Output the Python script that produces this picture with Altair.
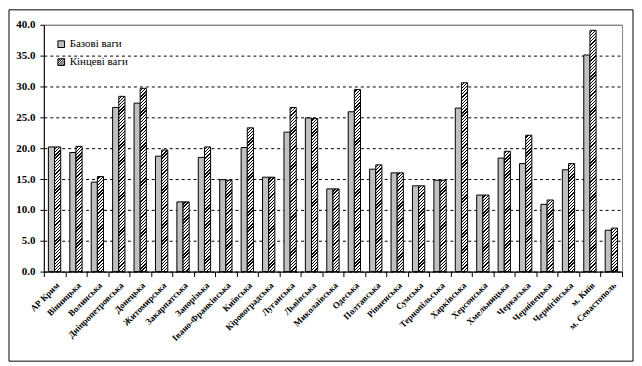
import altair as alt

regions = [
    "АР Крим", "Вінницька", "Волинська", "Дніпропетровська", "Донецька",
    "Житомирська", "Закарпатська", "Запорізька", "Івано-Франківська", "Київська",
    "Кіровоградська", "Луганська", "Львівська", "Миколаївська", "Одеська",
    "Полтавська", "Рівненська", "Сумська", "Тернопільська", "Харківська",
    "Херсонська", "Хмельницька", "Черкаська", "Чернівецька", "Чернігівська",
    "м. Київ", "м. Севастополь",
]
base_weights = [
    20.2, 19.3, 14.5, 26.6, 27.3, 18.7, 11.3, 18.5, 14.9, 20.1,
    15.3, 22.6, 24.9, 13.4, 25.9, 16.6, 16.0, 13.9, 14.8, 26.5,
    12.4, 18.4, 17.5, 10.9, 16.5, 35.1, 6.7,
]
final_weights = [
    20.2, 20.3, 15.4, 28.4, 29.7, 19.7, 11.3, 20.2, 14.8, 23.3,
    15.3, 26.6, 24.8, 13.4, 29.5, 17.3, 16.0, 13.9, 14.8, 30.6,
    12.4, 19.5, 22.1, 11.6, 17.5, 39.1, 7.05,
]
series_names = ["Базові ваги", "Кінцеві ваги"]
y_ticks = [0, 5, 10, 15, 20, 25, 30, 35, 40]

W, H = 581, 248
YMAX = 40
PO = 0.74
bar_w = W / len(regions) / (2 + 2 * PO)
px_per_unit = H / YMAX


def hatch(v, period=3.2, ink=0.4):
    """Diagonal '/' hatch as a bounding-box linear gradient for a bar of value v."""
    h = max(v * px_per_unit, 1.0)
    w = bar_w
    k = h / w
    s = (1 + k) / (1 + k * k)
    L = w + h
    stops = [{"offset": 0, "color": "white"}]
    n = 0
    while n * period < L:
        a = min((n + 1 - ink) * period / L, 1.0)
        b = min((n + 1) * period / L, 1.0)
        stops += [
            {"offset": a, "color": "white"},
            {"offset": a, "color": "black"},
            {"offset": b, "color": "black"},
            {"offset": b, "color": "white"},
        ]
        n += 1
    return {"gradient": "linear", "x1": 0, "y1": 0, "x2": s, "y2": s * k, "stops": stops}


records = []
for r, b, f in zip(regions, base_weights, final_weights):
    records.append({"region": r, "series": series_names[0], "value": b, "paint": "#c0c0c0"})
    records.append({"region": r, "series": series_names[1], "value": f, "paint": hatch(f)})

HATCH_PATH = ("M-1,-1H1V1H-1Z M-1,-0.33L-0.33,-1 M-1,0.33L0.33,-1 "
              "M-1,1L1,-1 M-0.33,1L1,-0.33 M0.33,1L1,0.33")

frame = alt.Chart(alt.Data(values=[{"k": 0}])).mark_rect(
    fill="transparent", stroke="black", strokeWidth=1
).encode(
    x=alt.value(-35), x2=alt.value(592), y=alt.value(-15), y2=alt.value(338)
)

bars = alt.Chart(alt.Data(values=records)).mark_bar(
    stroke="black", strokeWidth=1
).encode(
    x=alt.X(
        "region:N", sort=regions, title=None,
        scale=alt.Scale(paddingInner=0, paddingOuter=0),
        axis=alt.Axis(
            labelAngle=-45, tickBand="extent", tickSize=5, labelPadding=4,
            labelFontSize=9, labelFont="Liberation Serif", labelFontWeight="bold",
            domainColor="black", tickColor="black", labelColor="black", grid=False,
        ),
    ),
    xOffset=alt.XOffset(
        "series:N", sort=series_names,
        scale=alt.Scale(paddingInner=0, paddingOuter=PO),
    ),
    y=alt.Y(
        "value:Q", title=None,
        scale=alt.Scale(domain=[0, YMAX], nice=False),
        axis=alt.Axis(
            values=y_ticks, format=".1f", tickSize=4, labelPadding=5,
            labelFontSize=11, labelFont="Liberation Serif", labelFontWeight="bold",
            domainColor="black", tickColor="black", labelColor="black",
            grid=True,
            gridColor=alt.condition("datum.value == 40", alt.value("#808080"), alt.value("black")),
            gridDash=alt.condition("datum.value == 40", alt.value([]), alt.value([3, 3])),
        ),
    ),
    fill=alt.Fill("paint:N", scale=None),
)

legend_def = alt.Legend(
    orient="none", legendX=12, legendY=14, title=None,
    labelFont="Liberation Serif", labelFontSize=11, labelFontWeight="normal",
    labelColor="black", symbolSize=45, symbolStrokeColor="black",
    symbolStrokeWidth=1, rowPadding=6, padding=0, labelOffset=3,
)

legend_layer = alt.Chart(alt.Data(values=records)).transform_filter("false").mark_point(
    filled=True, stroke="black", strokeWidth=1, opacity=1
).encode(
    color=alt.Color("series:N", scale=alt.Scale(domain=series_names, range=["#c0c0c0", "white"]),
                    legend=legend_def),
    shape=alt.Shape("series:N", scale=alt.Scale(domain=series_names, range=["square", HATCH_PATH]),
                    legend=legend_def),
)

chart = alt.layer(frame, bars, legend_layer).properties(
    width=W, height=H, padding=0, background="white"
).configure_view(stroke="#808080", strokeWidth=1)

chart.save("out.html", embed_options={"renderer": "svg", "actions": False})
